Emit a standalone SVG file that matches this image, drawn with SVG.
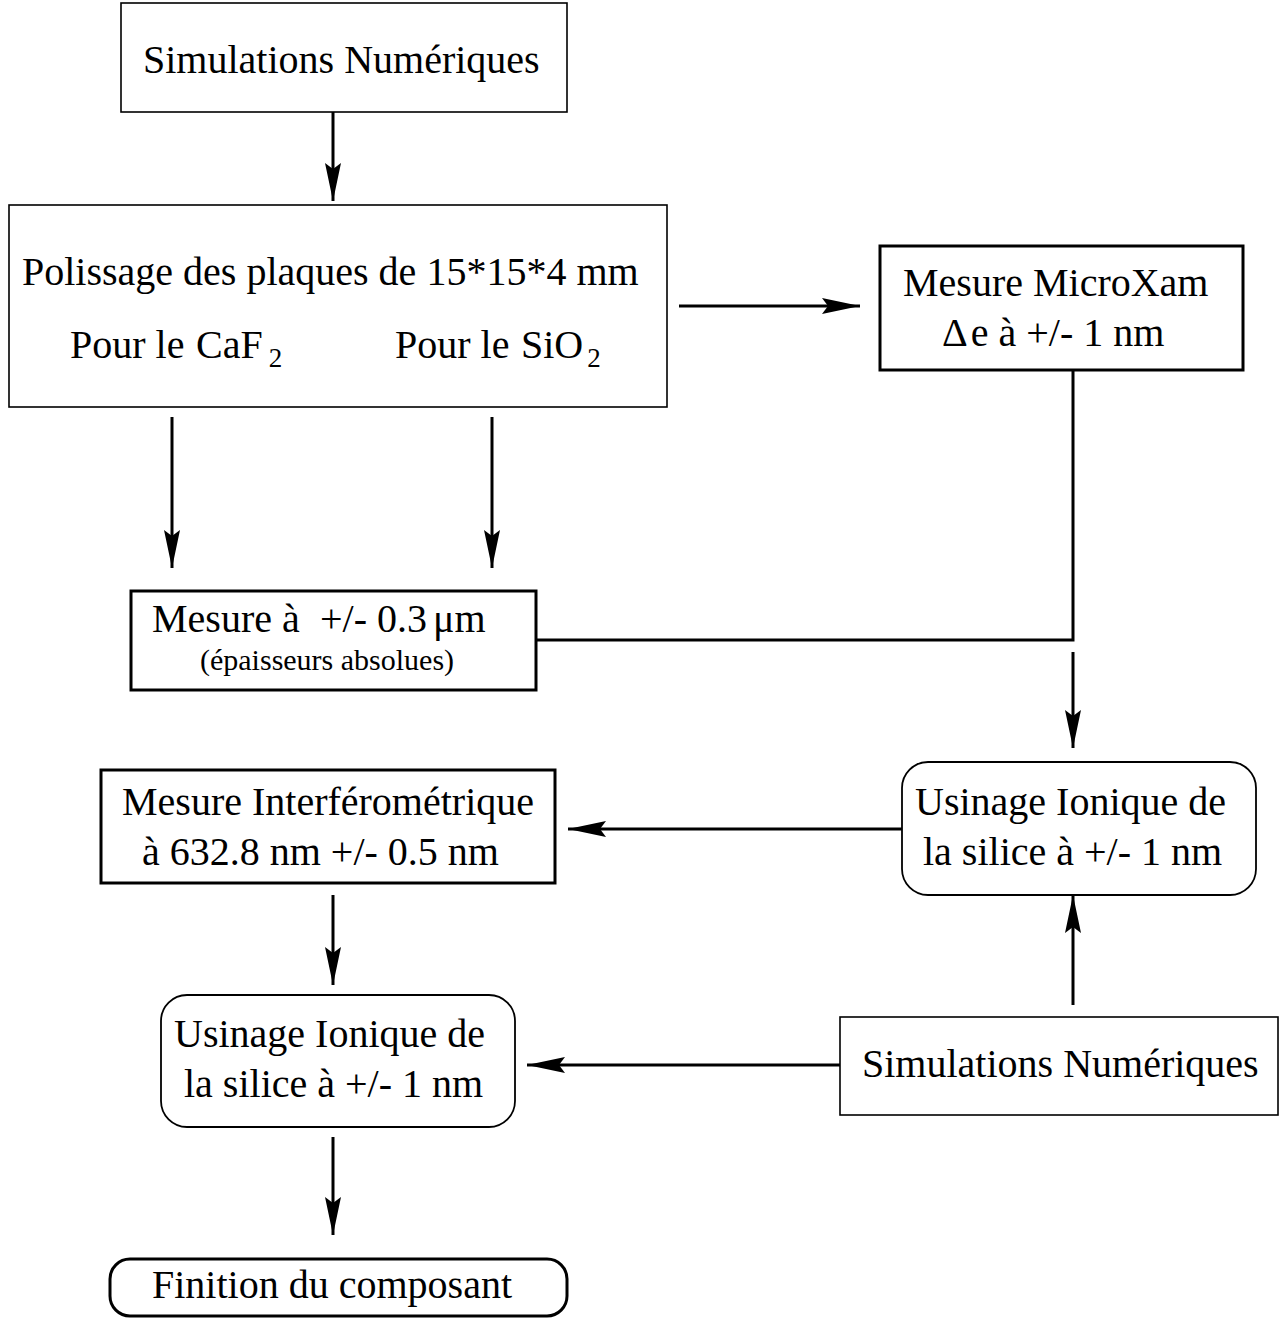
<svg xmlns="http://www.w3.org/2000/svg" width="1280" height="1318" viewBox="0 0 1280 1318">
<defs>
<marker id="ah" markerUnits="userSpaceOnUse" viewBox="0 0 40 18" refX="39" refY="9" markerWidth="40" markerHeight="18" orient="auto">
<path d="M1,1 L39,9 L1,17 L7,9 Z" fill="#000"/>
</marker>
<style>
text{font-family:"Liberation Serif","Times New Roman",serif;font-size:40px;fill:#000}
.thin{fill:#fff;stroke:#000;stroke-width:1.6}
.thick{fill:#fff;stroke:#000;stroke-width:3}
.rnd{fill:#fff;stroke:#000;stroke-width:1.8}
.c{fill:none;stroke:#000;stroke-width:3}
.a{marker-end:url(#ah)}
.sm{font-size:30px}
.sub{font-size:27px}
</style>
</defs>
<rect width="1280" height="1318" fill="#fff"/>
<g id="connectors">
<line class="c a" x1="333" y1="112" x2="333" y2="201"/>
<line class="c a" x1="679" y1="306" x2="860" y2="306"/>
<polyline class="c" points="1073,370 1073,640 536,640"/>
<line class="c a" x1="172" y1="417" x2="172" y2="568"/>
<line class="c a" x1="492" y1="417" x2="492" y2="568"/>
<line class="c a" x1="1073" y1="652" x2="1073" y2="748"/>
<line class="c a" x1="902" y1="829" x2="568" y2="829"/>
<line class="c a" x1="333" y1="895" x2="333" y2="985"/>
<line class="c a" x1="840" y1="1065" x2="527" y2="1065"/>
<line class="c a" x1="1073" y1="1005" x2="1073" y2="895"/>
<line class="c a" x1="333" y1="1137" x2="333" y2="1235"/>
</g>
<g id="sim1">
<rect class="thin" x="121" y="3" width="446" height="109"/>
<text x="143" y="73">Simulations Numériques</text>
</g>
<g id="polissage">
<rect class="thin" x="9" y="205" width="658" height="202"/>
<text x="22" y="285">Polissage des plaques de 15*15*4 mm</text>
<text x="70" y="358">Pour le</text>
<text x="196" y="358">CaF<tspan class="sub" dx="6" dy="9">2</tspan></text>
<text x="395" y="358">Pour le</text>
<text x="521" y="358">SiO<tspan class="sub" dx="4" dy="9">2</tspan></text>
</g>
<g id="microxam">
<rect class="thick" x="880" y="246" width="363" height="124"/>
<text x="903" y="296">Mesure MicroXam</text>
<text x="942" y="346">Δ<tspan dx="3">e à +/- 1 nm</tspan></text>
</g>
<g id="mesure03">
<rect class="thick" x="131" y="591" width="405" height="99"/>
<text x="152" y="632">Mesure à</text>
<text x="320" y="632">+/- 0.3</text>
<text x="433" y="632">μm</text>
<text class="sm" x="200" y="670">(épaisseurs absolues)</text>
</g>
<g id="interf">
<rect class="thick" x="101" y="770" width="454" height="113"/>
<text x="122" y="815">Mesure Interférométrique</text>
<text x="142" y="865">à 632.8 nm +/- 0.5 nm</text>
</g>
<g id="usinage1">
<rect class="rnd" x="902" y="762" width="354" height="133" rx="26" ry="26"/>
<text x="915" y="815">Usinage Ionique de</text>
<text x="923" y="865">la silice à +/- 1 nm</text>
</g>
<g id="usinage2">
<rect class="rnd" x="161" y="995" width="354" height="132" rx="26" ry="26"/>
<text x="174" y="1047">Usinage Ionique de</text>
<text x="184" y="1097">la silice à +/- 1 nm</text>
</g>
<g id="sim2">
<rect class="thin" x="840" y="1017" width="438" height="98"/>
<text x="862" y="1077">Simulations Numériques</text>
</g>
<g id="finition">
<rect class="thick" x="110" y="1259" width="457" height="57" rx="20" ry="20"/>
<text x="152" y="1298">Finition du composant</text>
</g>
</svg>
